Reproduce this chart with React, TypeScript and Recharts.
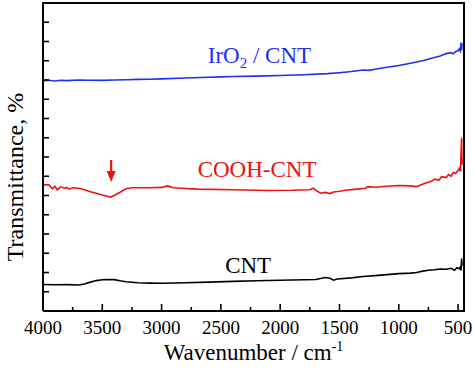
import React from "react";
import {
  LineChart,
  Line,
  XAxis,
  YAxis,
  ReferenceDot,
} from "recharts";

// 파수 (cm-1) 와 투과율 (임의 단위, 눈금 간격 = 1)
const irWavenumbers = [4000, 3950, 3900, 3850, 3800, 3700, 3600, 3500, 3400, 3300, 3200, 3100, 3000, 2800, 2600, 2500, 2400, 2200, 2000, 1800, 1600, 1500, 1400, 1350, 1300, 1250, 1200, 1100, 1000, 900, 800, 700, 650, 600, 560, 540, 520, 500, 490, 480, 475, 470, 466];
const irValues = [11.97, 11.99, 11.95, 11.99, 11.97, 12.0, 11.99, 11.98, 12.0, 12.01, 12.03, 12.04, 12.06, 12.1, 12.14, 12.16, 12.18, 12.2, 12.23, 12.27, 12.33, 12.38, 12.44, 12.48, 12.52, 12.5, 12.56, 12.66, 12.75, 12.87, 13.0, 13.17, 13.25, 13.37, 13.42, 13.36, 13.48, 13.52, 13.62, 13.5, 13.94, 13.55, 13.9];

const coohWavenumbers = [4000, 3950, 3920, 3900, 3880, 3850, 3820, 3800, 3780, 3750, 3700, 3650, 3600, 3550, 3500, 3450, 3430, 3400, 3350, 3300, 3250, 3100, 3000, 2950, 2900, 2800, 2700, 2400, 2100, 1900, 1750, 1720, 1700, 1660, 1620, 1580, 1550, 1500, 1450, 1350, 1280, 1260, 1200, 1100, 1000, 900, 850, 800, 760, 720, 700, 660, 640, 600, 580, 560, 540, 520, 500, 490, 480, 475, 470, 467, 465];
const coohValues = [6.56, 6.55, 6.35, 6.48, 6.3, 6.45, 6.38, 6.42, 6.33, 6.4, 6.38, 6.3, 6.2, 6.12, 6.03, 5.95, 5.92, 6.0, 6.17, 6.35, 6.4, 6.4, 6.42, 6.5, 6.4, 6.36, 6.33, 6.3, 6.26, 6.27, 6.3, 6.38, 6.28, 6.12, 6.16, 6.1, 6.18, 6.22, 6.27, 6.33, 6.38, 6.46, 6.43, 6.48, 6.52, 6.5, 6.46, 6.58, 6.68, 6.75, 6.85, 6.8, 6.98, 6.93, 7.1, 7.0, 7.2, 7.15, 7.3, 7.4, 7.25, 8.2, 9.0, 7.6, 7.9];

const cntWavenumbers = [4000, 3900, 3800, 3700, 3650, 3600, 3550, 3500, 3450, 3400, 3350, 3300, 3200, 3100, 3000, 2800, 2600, 2400, 2200, 2000, 1800, 1700, 1650, 1620, 1580, 1550, 1520, 1400, 1300, 1200, 1100, 1000, 900, 850, 800, 750, 700, 650, 600, 560, 530, 510, 490, 480, 475, 470, 466];
const cntValues = [1.38, 1.36, 1.37, 1.35, 1.4, 1.5, 1.58, 1.62, 1.64, 1.63, 1.57, 1.52, 1.47, 1.45, 1.44, 1.47, 1.5, 1.54, 1.57, 1.6, 1.62, 1.64, 1.7, 1.74, 1.7, 1.6, 1.66, 1.72, 1.79, 1.84, 1.89, 1.94, 1.97, 2.0, 2.07, 2.12, 2.14, 2.18, 2.17, 2.22, 2.12, 2.25, 2.2, 2.3, 2.1, 2.73, 2.35];

const xTicks = [4000, 3750, 3500, 3250, 3000, 2750, 2500, 2250, 2000, 1750, 1500, 1250, 1000, 750, 500];
const yTicks = [1, 2, 3, 4, 5, 6, 7, 8, 9, 10, 11, 12, 13, 14, 15];

const FONT = "Liberation Serif, Times New Roman, serif";

const toRows = (wn: number[], vals: number[]) =>
  wn.map((w, i) => ({ wn: w, t: vals[i] }));

const irData = toRows(irWavenumbers, irValues);
const coohData = toRows(coohWavenumbers, coohValues);
const cntData = toRows(cntWavenumbers, cntValues);

function XTick(props: any) {
  const { x, y, payload } = props;
  const major = payload.value % 500 === 0;
  return (
    <g>
      <line x1={x} x2={x} y1={y} y2={y - (major ? 7 : 4)} stroke="#000" strokeWidth={1.6} />
      {major && (
        <text x={x} y={y + 23} textAnchor="middle" fontFamily={FONT} fontSize={19} fill="#000">
          {payload.value}
        </text>
      )}
    </g>
  );
}

function YTick(props: any) {
  const { x, y } = props;
  return <line x1={x} x2={x + 6} y1={y} y2={y} stroke="#000" strokeWidth={1.6} />;
}

function SeriesLabel({ viewBox, color, main, sub, rest }: any) {
  const cx = viewBox.x;
  const cy = viewBox.y;
  return (
    <text x={cx} y={cy} textAnchor="middle" fontFamily={FONT} fontSize={23} fill={color}>
      {main}
      {sub && (
        <tspan fontSize={15} dy={5}>
          {sub}
        </tspan>
      )}
      {rest && <tspan dy={sub ? -5 : 0}>{rest}</tspan>}
    </text>
  );
}

function DownArrow(props: any) {
  const { cx, cy } = props;
  // cy = 화살표 끝점
  return (
    <g>
      <line x1={cx} x2={cx} y1={cy - 22} y2={cy - 10} stroke="#ee1111" strokeWidth={2.2} />
      <polygon points={`${cx - 4.5},${cy - 11} ${cx + 4.5},${cy - 11} ${cx},${cy}`} fill="#ee1111" />
    </g>
  );
}

export default function App() {
  return (
    <div style={{ position: "absolute", left: 0, top: 0, width: 474, height: 370, background: "#fff" }}>
      <LineChart width={474} height={370} margin={{ top: 3, right: 10, left: 0, bottom: 0 }}>
        <XAxis
          type="number"
          dataKey="wn"
          domain={[450, 4000]}
          reversed
          ticks={xTicks}
          interval={0}
          tick={<XTick />}
          tickLine={false}
          tickSize={0}
          tickMargin={0}
          height={59}
          axisLine={{ stroke: "#000", strokeWidth: 2 }}
          label={{
            content: (p: any) => (
              <text
                x={p.viewBox.x + p.viewBox.width / 2}
                y={360}
                textAnchor="middle"
                fontFamily={FONT}
                fontSize={23}
                fill="#000"
              >
                Wavenumber / cm
                <tspan fontSize={14} dy={-9}>-1</tspan>
              </text>
            ),
          }}
        />
        <YAxis
          type="number"
          domain={[0, 16]}
          ticks={yTicks}
          interval={0}
          tick={<YTick />}
          tickLine={false}
          tickSize={0}
          tickMargin={0}
          width={43}
          axisLine={{ stroke: "#000", strokeWidth: 2 }}
          label={{
            content: (p: any) => (
              <text
                x={0}
                y={0}
                transform={`translate(${p.viewBox.x + 23}, 177) rotate(-90)`}
                textAnchor="middle"
                fontFamily={FONT}
                fontSize={24}
                fill="#000"
              >
                Transmittance, %
              </text>
            ),
          }}
        />
        <Line data={irData} dataKey="t" stroke="#1f2ff0" strokeWidth={1.6} dot={false} isAnimationActive={false} />
        <Line data={coohData} dataKey="t" stroke="#ee1111" strokeWidth={1.6} dot={false} isAnimationActive={false} />
        <Line data={cntData} dataKey="t" stroke="#000" strokeWidth={1.6} dot={false} isAnimationActive={false} />
        <ReferenceDot
          x={2175}
          y={12.9}
          r={0}
          ifOverflow="visible"
          label={<SeriesLabel color="#1f2ff0" main="IrO" sub="2" rest=" / CNT" />}
        />
        <ReferenceDot
          x={2195}
          y={6.98}
          r={0}
          ifOverflow="visible"
          label={<SeriesLabel color="#ee1111" main="COOH-CNT" />}
        />
        <ReferenceDot
          x={2270}
          y={2.0}
          r={0}
          ifOverflow="visible"
          label={<SeriesLabel color="#000" main="CNT" />}
        />
        <ReferenceDot x={3425} y={6.7} r={0} ifOverflow="visible" shape={<DownArrow />} />
      </LineChart>
      {/* 위쪽, 오른쪽 테두리 */}
      <div
        style={{
          position: "absolute",
          left: 42,
          top: 2,
          width: 423,
          height: 310,
          boxSizing: "border-box",
          borderTop: "2px solid #000",
          borderRight: "2px solid #000",
          pointerEvents: "none",
        }}
      />
    </div>
  );
}
